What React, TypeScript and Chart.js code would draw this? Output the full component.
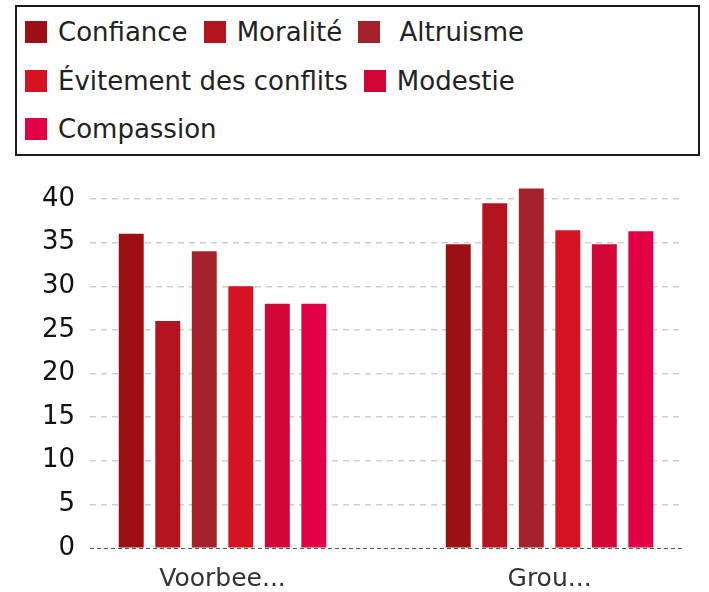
import React, { useEffect, useRef } from "react";
import { Chart, registerables } from "chart.js";

Chart.register(...registerables);

// ---- data ----
const categories = ["Voorbee...", "Grou..."];
const seriesNames = ["Confiance", "Moralité", " Altruisme", "Évitement des conflits", "Modestie", "Compassion"];
const confiance = [36, 34.8];
const moralite = [26, 39.5];
const altruisme = [34, 41.2];
const evitement = [30, 36.4];
const modestie = [28, 34.8];
const compassion = [28, 36.3];
const seriesColors = ["#9C0F14", "#B41420", "#A3222B", "#D51323", "#D10536", "#E30045"];
const yMax = 42;
const yStep = 5;

const seriesValues = [confiance, moralite, altruisme, evitement, modestie, compassion];

// category spread (slot units spanned by the x axis)
const catRange = 1.81;

export default function App() {
  const canvasRef = useRef<HTMLCanvasElement | null>(null);

  useEffect(() => {
    document.body.style.margin = "0";
    const canvas = canvasRef.current;
    if (!canvas) return;
    const chart = new Chart(canvas, {
      type: "bar",
      data: {
        labels: categories,
        datasets: seriesNames.map((name, i) => ({
          label: name,
          data: seriesValues[i],
          backgroundColor: seriesColors[i],
          borderWidth: 0,
          categoryPercentage: 0.67,
          barPercentage: 0.683,
        })),
      },
      options: {
        responsive: false,
        animation: false,
        layout: { padding: { top: 41.5, left: 27, right: 27, bottom: 0 } },
        plugins: {
          legend: { display: false },
          tooltip: { enabled: false },
        },
        scales: {
          x: {
            grid: { display: false, drawTicks: false },
            border: { display: false },
            afterBuildTicks: (scale: any) => {
              scale._valueRange = catRange;
              scale._startValue = -(catRange - 1) / 2;
            },
            ticks: {
              padding: 16,
              color: "#333",
              font: { family: "'DejaVu Sans'", size: 25 },
            },
          },
          y: {
            min: 0,
            max: yMax,
            grid: {
              drawTicks: false,
              lineWidth: (ctx: any) => (ctx.tick && ctx.tick.value === 0 ? 1 : 1.4),
              color: (ctx: any) => (ctx.tick && ctx.tick.value === 0 ? "#555" : "#cdcdcd"),
            },
            border: {
              display: false,
              dash: (ctx: any) => (ctx.tick && ctx.tick.value === 0 ? [4, 3] : [6, 5]),
            },
            ticks: {
              stepSize: yStep,
              includeBounds: false,
              padding: 15,
              color: "#111",
              font: { family: "'DejaVu Sans'", size: 26 },
            },
          },
        },
      },
    });
    return () => chart.destroy();
  }, []);

  return (
    <div style={{ position: "relative", width: 709, height: 592, overflow: "hidden" }}>
      <div
        style={{
          position: "absolute",
          left: 15,
          top: 5,
          width: 685,
          height: 151,
          boxSizing: "border-box",
          border: "2px solid #1a1a1a",
          padding: "1px 8px 0 8px",
          display: "flex",
          flexWrap: "wrap",
          alignContent: "flex-start",
          fontFamily: "'DejaVu Sans'",
          fontSize: 26,
          color: "#222",
        }}
      >
        {seriesNames.map((name, i) => (
          <div
            key={name}
            style={{ display: "flex", alignItems: "center", height: 48.5, marginRight: 16 }}
          >
            <span
              style={{
                display: "inline-block",
                width: 22,
                height: 22,
                background: seriesColors[i],
                marginRight: 11,
              }}
            />
            <span style={{ whiteSpace: "pre" }}>{name}</span>
          </div>
        ))}
      </div>
      <canvas
        ref={canvasRef}
        width={709}
        height={470}
        style={{ position: "absolute", left: 0, top: 140, width: 709, height: 470 }}
      />
    </div>
  );
}
